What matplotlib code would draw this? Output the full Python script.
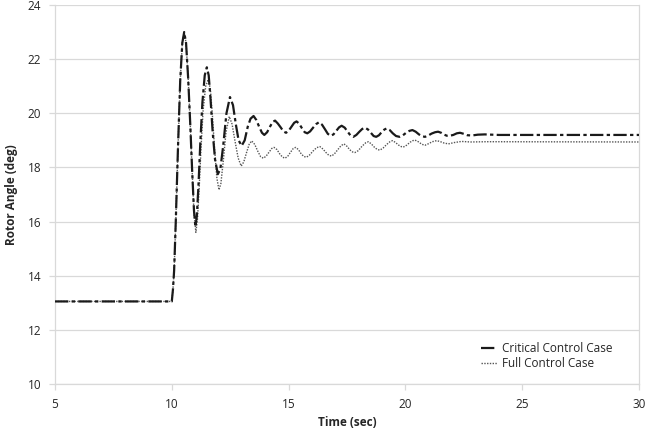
import matplotlib
matplotlib.use("Agg")
import matplotlib.pyplot as plt

# rotor angle response
t_critical = [5.0, 10.0, 10.05, 10.1, 10.17, 10.26, 10.36, 10.45, 10.53, 10.61, 10.7, 10.79,
              10.87, 10.95, 11.01, 11.07, 11.14, 11.22, 11.31, 11.41, 11.5, 11.58, 11.66, 11.75,
              11.85, 11.97, 12.08, 12.2, 12.34, 12.49, 12.62, 12.74, 12.86, 12.99, 13.12, 13.25,
              13.37, 13.5, 13.62, 13.74, 13.86, 13.96, 14.08, 14.2, 14.32, 14.42, 14.54, 14.66,
              14.78, 14.89, 15.0, 15.12, 15.24, 15.34, 15.45, 15.57, 15.69, 15.8, 15.92, 16.05,
              16.18, 16.3, 16.43, 16.55, 16.68, 16.8, 16.92, 17.04, 17.16, 17.27, 17.4, 17.52,
              17.65, 17.77, 17.9, 18.02, 18.15, 18.27, 18.4, 18.52, 18.64, 18.75, 18.87, 18.98,
              19.1, 19.2, 19.33, 19.46, 19.6, 19.75, 19.9, 20.03, 20.17, 20.3, 20.44, 20.58,
              20.72, 20.84, 20.98, 21.12, 21.27, 21.4, 21.53, 21.66, 21.78, 21.9, 22.05, 22.2,
              22.34, 22.5, 22.65, 22.85, 23.1, 23.4, 24.0, 30.0]
angle_critical = [13.05, 13.05, 13.5, 14.2, 16.0, 18.6, 21.2, 22.6, 23.0, 22.6, 21.3, 19.6,
                  17.9, 16.4, 15.8, 16.2, 17.3, 18.9, 20.4, 21.4, 21.7, 21.4, 20.5, 19.3,
                  18.3, 17.75, 17.95, 18.8, 20.0, 20.6, 20.3, 19.6, 19.0, 18.8, 19.0, 19.5,
                  19.8, 19.9, 19.75, 19.5, 19.28, 19.2, 19.3, 19.5, 19.68, 19.73, 19.62, 19.48,
                  19.33, 19.28, 19.35, 19.5, 19.65, 19.7, 19.62, 19.45, 19.3, 19.26, 19.33, 19.47,
                  19.6, 19.67, 19.58, 19.42, 19.24, 19.17, 19.22, 19.35, 19.48, 19.54, 19.47, 19.33,
                  19.18, 19.13, 19.2, 19.31, 19.42, 19.47, 19.4, 19.28, 19.16, 19.13, 19.19, 19.3,
                  19.4, 19.44, 19.38, 19.26, 19.16, 19.13, 19.19, 19.28, 19.35, 19.38, 19.32, 19.22,
                  19.15, 19.13, 19.18, 19.25, 19.3, 19.32, 19.28, 19.21, 19.17, 19.17, 19.2, 19.26,
                  19.28, 19.24, 19.19, 19.18, 19.21, 19.22, 19.2, 19.2]

t_full = [5.0, 10.0, 10.05, 10.1, 10.17, 10.26, 10.36, 10.45, 10.53, 10.61, 10.7, 10.79,
          10.87, 10.95, 11.03, 11.1, 11.17, 11.25, 11.34, 11.45, 11.56, 11.65, 11.74, 11.83,
          11.93, 12.02, 12.1, 12.2, 12.32, 12.46, 12.58, 12.7, 12.84, 12.97, 13.08, 13.2,
          13.31, 13.42, 13.55, 13.68, 13.8, 13.92, 14.04, 14.16, 14.28, 14.38, 14.5, 14.62,
          14.74, 14.85, 14.97, 15.08, 15.2, 15.3, 15.42, 15.54, 15.66, 15.77, 15.9, 16.04,
          16.2, 16.34, 16.47, 16.6, 16.72, 16.84, 16.96, 17.1, 17.24, 17.37, 17.5, 17.62,
          17.74, 17.84, 17.98, 18.14, 18.3, 18.42, 18.55, 18.68, 18.8, 18.91, 19.05, 19.2,
          19.34, 19.45, 19.58, 19.7, 19.82, 19.91, 20.05, 20.2, 20.32, 20.41, 20.55, 20.68,
          20.78, 20.84, 21.0, 21.15, 21.34, 21.5, 21.66, 21.84, 22.1, 22.4, 22.8, 23.5, 30.0]
angle_full = [13.05, 13.05, 13.5, 14.2, 16.0, 18.6, 21.2, 22.6, 23.0, 22.6, 21.3, 19.6,
              17.9, 16.3, 15.6, 16.1, 17.2, 18.7, 20.1, 21.0, 21.25, 20.9, 19.9, 18.7,
              17.6, 17.17, 17.4, 18.2, 19.3, 19.88, 19.6, 19.0, 18.35, 18.05, 18.2, 18.55,
              18.85, 18.98, 18.85, 18.6, 18.4, 18.34, 18.42, 18.56, 18.7, 18.74, 18.66, 18.5,
              18.38, 18.34, 18.42, 18.56, 18.7, 18.74, 18.66, 18.5, 18.4, 18.38, 18.46, 18.6,
              18.73, 18.77, 18.68, 18.55, 18.45, 18.42, 18.5, 18.65, 18.8, 18.87, 18.78, 18.65,
              18.57, 18.55, 18.62, 18.78, 18.91, 18.95, 18.86, 18.74, 18.66, 18.64, 18.72, 18.85,
              18.95, 18.99, 18.92, 18.83, 18.77, 18.75, 18.82, 18.93, 18.99, 19.01, 18.95, 18.87,
              18.83, 18.82, 18.88, 18.95, 18.99, 18.95, 18.9, 18.87, 18.92, 18.96, 18.94, 18.95, 18.94]

x_ticks = [5, 10, 15, 20, 25, 30]
y_ticks = [10, 12, 14, 16, 18, 20, 22, 24]

plt.rcParams['font.family'] = ['Open Sans', 'DejaVu Sans']

fig = plt.figure(figsize=(6.67, 4.33), dpi=100)
ax = fig.add_axes([55 / 667, 49 / 433, 584 / 667, 379 / 433])

ax.plot(t_critical, angle_critical, color='#1a1a1a', linewidth=1.6,
        linestyle=(0, (6, 1.5, 1.5, 1.5)), label='Critical Control Case', zorder=3)
ax.plot(t_full, angle_full, color='#555555', linewidth=1.0,
        linestyle=(0, (1, 1)), label='Full Control Case', zorder=2)

ax.set_xlim(5, 30)
ax.set_ylim(10, 24)
ax.set_xticks(x_ticks)
ax.set_yticks(y_ticks)
ax.yaxis.grid(True, color='#d9d9d9', linewidth=0.9)
ax.set_axisbelow(True)
for s in ax.spines.values():
    s.set_color('#d9d9d9')
    s.set_linewidth(0.9)
ax.spines['top'].set_visible(False)
ax.tick_params(axis='both', colors='#d9d9d9', length=4, width=0.9, labelsize=8.5,
               labelcolor='#262626')
ax.tick_params(axis='x', pad=6)
ax.tick_params(axis='y', pad=6)

ax.set_xlabel('Time (sec)', fontsize=8.5, fontweight='bold', color='#262626', labelpad=4)
ax.set_ylabel('Rotor Angle (deg)', fontsize=8.5, fontweight='bold', color='#262626', labelpad=7)

leg = ax.legend(loc='lower right', bbox_to_anchor=(0.972, 0.008), frameon=False,
                fontsize=8.5, handlelength=1.3, handletextpad=0.4, labelspacing=0.2)
for txt in leg.get_texts():
    txt.set_color('#262626')

fig.savefig('out.png', dpi=100)
